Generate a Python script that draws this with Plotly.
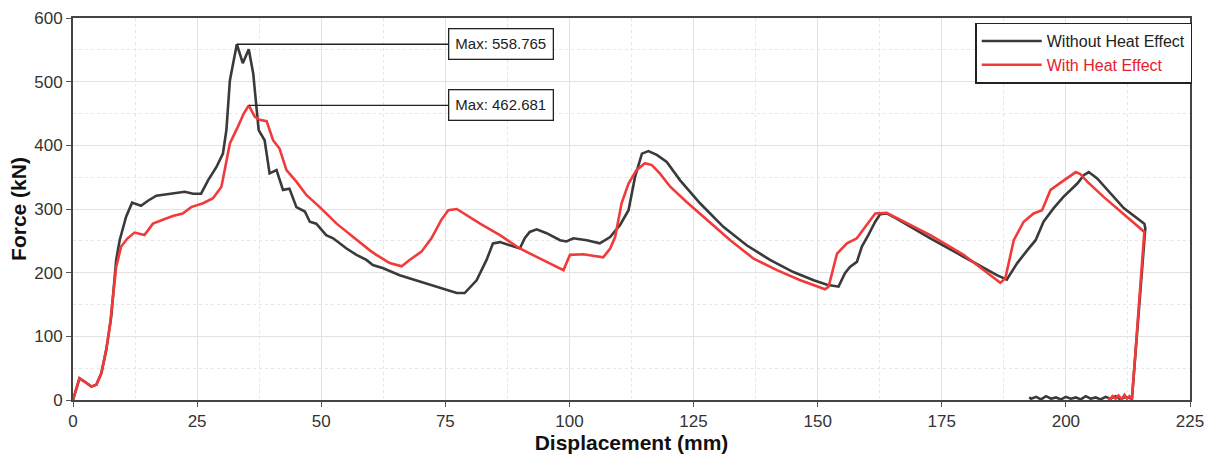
import plotly.graph_objects as go

# Without Heat Effect (black)
disp_no_heat = [0, 1.3, 2.3, 3.7, 4.7, 5.7, 6.7, 7.7, 8.7, 9.4, 10.7, 11.9, 13.7, 15.1, 16.8, 19.5, 22.5,
                24.2, 25.8, 27.2, 28.9, 30.2, 30.9, 31.6, 33.0, 34.2, 35.4, 36.3, 36.9, 37.4, 38.6, 39.6,
                41.0, 42.3, 43.6, 45.0, 46.7, 47.7, 49.0, 51.0, 52.4, 55.1, 57.1, 59.1, 60.4, 62.5, 65.8,
                69.9, 74.6, 77.3, 78.9, 81.3, 83.3, 84.6, 86.0, 88.0, 90.0, 91.0, 92.0, 93.4, 95.4, 98.1,
                99.4, 100.8, 103.5, 106.1, 108.2, 110.2, 111.9, 113.2, 114.6, 115.9, 117.6, 119.6, 122.3,
                126.3, 131.0, 135.7, 140.4, 145.1, 149.2, 151.9, 154.2, 155.5, 156.5, 157.9, 158.9, 160.2,
                161.6, 162.6, 163.9, 165.9, 172.7, 179.4, 186.1, 188.1, 190.2, 192.2, 193.9, 195.5, 197.5,
                199.5, 202.3, 203.6, 204.6, 206.3, 209.0, 211.7, 215.8, 216.0, 213.3,
                212.0, 211.0, 210.0, 209.0, 208.0, 207.0, 206.0, 205.0, 204.0, 203.0, 202.0, 201.0, 200.0,
                199.0, 198.0, 197.0, 196.0, 195.0, 194.0, 193.0, 192.6]
force_no_heat = [0, 34, 29, 21, 24, 42, 78, 131, 220, 251, 288, 310, 305, 313, 321, 324, 327,
                 324, 324, 345, 366, 387, 424, 502, 558.765, 529, 551, 513, 460, 424, 408, 356,
                 361, 330, 332, 303, 296, 280, 277, 259, 254, 238, 228, 220, 212, 207, 196,
                 186, 175, 168, 168, 188, 220, 246, 248, 243, 238, 254, 264, 268, 262, 251,
                 249, 254, 251, 246, 256, 275, 298, 350, 387, 391, 385, 374, 345,
                 309, 272, 243, 220, 201, 188, 181, 178, 199, 209, 217, 241, 259,
                 280, 292, 293, 285, 254, 225, 196, 189, 215, 235, 251, 280, 301,
                 319, 340, 353, 358, 348, 324, 301, 277, 270, 2,
                 5, 1, 6, 2, 5, 1, 4, 2, 6, 1, 4, 2, 5,
                 1, 4, 2, 6, 1, 5, 2, 4]

# With Heat Effect (red)
disp_heat = [0, 1.3, 2.3, 3.7, 4.7, 5.7, 6.7, 7.4, 8.7, 9.7, 11.0, 12.4, 14.4, 16.1, 18.1, 20.1, 22.1,
             23.8, 26.2, 28.2, 29.9, 31.6, 33.2, 34.4, 35.4, 36.6, 37.6, 39.0, 40.3, 41.6, 43.0, 45.0,
             47.0, 49.7, 53.1, 56.4, 59.8, 61.1, 63.8, 66.2, 67.8, 70.2, 72.2, 74.2, 75.6, 77.3, 79.3,
             82.0, 86.0, 90.0, 94.1, 98.8, 100.1, 102.8, 106.8, 108.2, 109.2, 110.5, 111.9, 113.5,
             115.2, 116.6, 118.2, 120.3, 123.6, 127.7, 132.4, 137.1, 141.8, 146.5, 151.5, 152.2, 153.9,
             155.9, 157.9, 159.6, 161.6, 163.9, 172.7, 179.4, 186.8, 187.8, 189.5, 191.5, 193.5, 195.2,
             196.9, 199.6, 202.0, 202.9, 204.3, 207.6, 210.3, 215.8, 213.3,
             212.8, 212.3, 211.8, 211.2, 210.6, 210.0, 209.4, 208.9, 208.5]
force_heat = [0, 34, 29, 21, 24, 42, 80, 115, 209, 241, 254, 263, 259, 277, 283, 289, 293,
              303, 309, 317, 335, 403, 429, 450, 462.681, 445, 440, 438, 408, 395, 361, 343,
              322, 303, 277, 256, 235, 228, 215, 210, 220, 233, 254, 283, 298, 300, 290,
              277, 259, 238, 222, 204, 228, 229, 224, 238, 256, 309, 340, 361,
              372, 369, 356, 335, 311, 283, 251, 222, 204, 188, 174, 178, 230,
              246, 254, 272, 293, 294, 259, 228, 184, 191, 251, 280, 293, 298,
              330, 345, 358, 355, 343, 319, 301, 264, 1,
              6, 2, 8, 1, 7, 2, 6, 1, 3]

series_names = ["Without Heat Effect", "With Heat Effect"]
x_ticks = [0, 25, 50, 75, 100, 125, 150, 175, 200, 225]
y_ticks = [0, 100, 200, 300, 400, 500, 600]

BLACK = "#3a3a3a"
RED = "#f23a3a"
FONT = "Liberation Sans, Arial, sans-serif"

fig = go.Figure()
fig.add_trace(go.Scatter(x=disp_no_heat, y=force_no_heat, mode="lines", name=series_names[0],
                         line=dict(color=BLACK, width=2.6)))
fig.add_trace(go.Scatter(x=disp_heat, y=force_heat, mode="lines",
                         name=f"<span style='color:#e8202a'>{series_names[1]}</span>",
                         line=dict(color=RED, width=2.6)))

# Max annotations
i_max0 = force_no_heat.index(max(force_no_heat))
i_max1 = force_heat.index(max(force_heat))
for xm, ym in [(disp_no_heat[i_max0], force_no_heat[i_max0]), (disp_heat[i_max1], force_heat[i_max1])]:
    fig.add_annotation(x=xm, y=ym, ax=86.2, ay=ym, axref="x", ayref="y", xref="x", yref="y",
                       text=f"Max: {ym:.3f}", showarrow=True, arrowhead=0, arrowwidth=1.3,
                       arrowcolor="#222", standoff=0,
                       font=dict(family=FONT, size=15, color="#222"),
                       bordercolor="#222", borderwidth=1.3, borderpad=6, bgcolor="white")

axis_common = dict(showline=True, linecolor="#444", linewidth=2, mirror=True,
                   ticks="outside", ticklen=5, tickcolor="#555", automargin=False,
                   showgrid=True, gridcolor="#e2e2e2", gridwidth=1, zeroline=False,
                   tickfont=dict(family=FONT, size=17, color="#333"))

fig.update_xaxes(range=[0, 225], tickvals=x_ticks,
                 minor=dict(dtick=12.5, showgrid=True, griddash="dot", gridcolor="#e6e6e6"),
                 title=dict(text="<b>Displacement (mm)</b>", font=dict(family=FONT, size=21, color="#111"), standoff=4),
                 **axis_common)
fig.update_yaxes(range=[0, 600], tickvals=y_ticks,
                 minor=dict(dtick=50, showgrid=True, griddash="dot", gridcolor="#e6e6e6"),
                 title=dict(text="<b>Force (kN)</b>", font=dict(family=FONT, size=21, color="#111"), standoff=2),
                 **axis_common)

fig.update_layout(
    width=1213, height=458,
    margin=dict(l=73, r=23, t=18, b=58),
    plot_bgcolor="white", paper_bgcolor="white",
    legend=dict(x=1.002, xanchor="right", y=0.988, yanchor="top",
                bordercolor="#222", borderwidth=1.5, bgcolor="white",
                font=dict(family=FONT, size=16, color="#222"),
                itemwidth=60, tracegroupgap=0),
)

fig.write_html("out.html", config={"displayModeBar": False},
               post_script="document.body.style.margin='0';document.body.style.overflow='hidden';")
